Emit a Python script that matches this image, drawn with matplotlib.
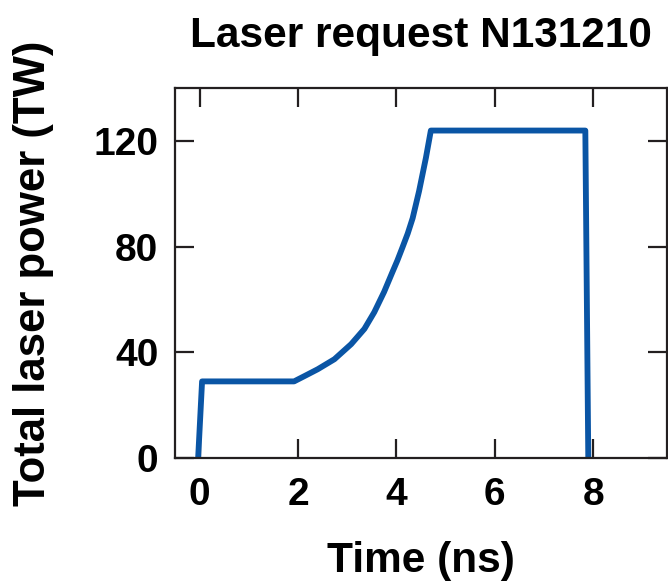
import matplotlib
matplotlib.use("Agg")
import matplotlib.pyplot as plt

# Requested total laser power vs time
time_ns = [-0.03, 0.05, 1.92, 2.13, 2.40, 2.74, 3.08, 3.35, 3.55, 3.75, 3.91,
           4.02, 4.12, 4.23, 4.33, 4.46, 4.60, 4.70, 7.84, 7.90]
power_tw = [0.0, 29.0, 29.0, 31.0, 33.6, 37.4, 43.1, 48.9, 55.2, 62.9, 70.0,
            74.8, 79.6, 85.0, 90.8, 101.0, 113.7, 124.0, 124.0, 0.0]

x_ticks = [0, 2, 4, 6, 8]
y_ticks = [0, 40, 80, 120]

plt.rcParams["font.family"] = ["Liberation Sans", "DejaVu Sans"]
plt.rcParams["font.weight"] = "bold"

fig = plt.figure(figsize=(6.68, 5.84), dpi=100)
ax = fig.add_axes([0.262, 0.2158, 0.7365, 0.633])

ax.plot(time_ns, power_tw, color="#0a55a5", lw=4.2, solid_joinstyle="round",
        solid_capstyle="butt")

ax.set_xlim(-0.5, 9.5)
ax.set_ylim(0, 140)
ax.set_xticks(x_ticks)
ax.set_yticks(y_ticks)
ax.set_xticklabels([str(v) for v in x_ticks], fontsize=28, fontweight="bold")
ax.set_yticklabels([str(v) for v in y_ticks], fontsize=28, fontweight="bold")

edge = "#231f20"
for s in ax.spines.values():
    s.set_color(edge)
    s.set_linewidth(1.6)
ax.tick_params(axis="both", which="major", direction="in", length=13.5, width=1.6,
               color=edge, top=True, right=True)
ax.tick_params(axis="x", pad=14)
ax.tick_params(axis="y", pad=12)

ax.set_xlabel("Time (ns)", fontsize=30.5, fontweight="bold", labelpad=20)
ax.set_ylabel("Total laser power (TW)", fontsize=31.5, fontweight="bold", labelpad=28)
ax.set_title("Laser request N131210", fontsize=30.5, fontweight="bold", pad=30)

fig.savefig("out.png", dpi=100)
